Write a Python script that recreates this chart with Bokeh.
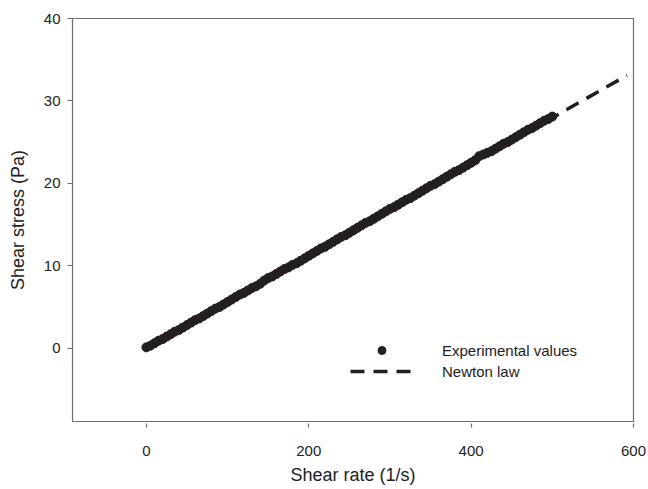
from bokeh.plotting import figure
from bokeh.models import Range1d, Legend, LegendItem, FixedTicker
from bokeh.embed import file_html
from bokeh.resources import INLINE

shear_rate = [0, 5, 10, 15, 20, 25, 30, 35, 40, 45, 50, 55, 60, 65, 70, 75, 80, 85, 90, 95,
              100, 105, 110, 115, 120, 125, 130, 135, 140, 145, 150, 155, 160, 165, 170, 175,
              180, 185, 190, 195, 200, 205, 210, 215, 220, 225, 230, 235, 240, 245, 250, 255,
              260, 265, 270, 275, 280, 285, 290, 295, 300, 305, 310, 315, 320, 325, 330, 335,
              340, 345, 350, 355, 360, 365, 370, 375, 380, 385, 390, 395, 400, 405, 410, 415,
              420, 425, 430, 435, 440, 445, 450, 455, 460, 465, 470, 475, 480, 485, 490, 495,
              500]
shear_stress = [0.1, 0.3, 0.6, 0.9, 1.1, 1.4, 1.7, 2.0, 2.2, 2.5, 2.8, 3.1, 3.4, 3.6, 3.9,
                4.2, 4.5, 4.8, 5.0, 5.3, 5.6, 5.9, 6.2, 6.5, 6.7, 7.0, 7.3, 7.5, 7.8, 8.2,
                8.5, 8.7, 9.0, 9.3, 9.6, 9.8, 10.1, 10.3, 10.6, 10.9, 11.2, 11.5, 11.8,
                12.1, 12.3, 12.6, 12.9, 13.2, 13.5, 13.7, 14.0, 14.3, 14.6, 14.9, 15.2,
                15.4, 15.7, 16.0, 16.3, 16.6, 16.9, 17.1, 17.4, 17.7, 18.0, 18.2, 18.5,
                18.8, 19.1, 19.4, 19.7, 19.9, 20.2, 20.5, 20.8, 21.1, 21.4, 21.6, 21.9,
                22.2, 22.5, 22.8, 23.3, 23.5, 23.7, 23.9, 24.2, 24.5, 24.8, 25.0, 25.3,
                25.6, 25.9, 26.2, 26.5, 26.7, 27.0, 27.3, 27.6, 27.8, 28.1]
newton_x = [0, 592]
newton_y = [0, 33.1]
x_ticks = [0, 200, 400, 600]
y_ticks = [0, 10, 20, 30, 40]

FONT = "Liberation Sans"
GREY = "#6e6e6e"
INK = "#231f20"

p = figure(width=648, height=489, output_backend="svg", toolbar_location=None,
           x_range=Range1d(-91, 600), y_range=Range1d(-8.9, 40),
           min_border_left=72, min_border_right=15, min_border_top=18,
           min_border_bottom=68)
p.grid.visible = False
p.outline_line_color = GREY
p.outline_line_width = 1.2
p.background_fill_color = "white"
p.border_fill_color = "white"

line_r = p.line(newton_x, newton_y, line_color=INK, line_width=3.5, line_dash="14 9")
pts_r = p.scatter(shear_rate, shear_stress, size=9, fill_color=INK, line_color=INK)

for ax in (p.xaxis[0], p.yaxis[0]):
    ax.axis_line_color = GREY
    ax.major_tick_line_color = GREY
    ax.major_tick_line_width = 1.2
    ax.minor_tick_line_color = None
    ax.major_label_text_font = FONT
    ax.major_label_text_font_size = "15px"
    ax.major_label_text_color = "#222222"
    ax.axis_label_text_font = FONT
    ax.axis_label_text_font_size = "18px"
    ax.axis_label_text_font_style = "normal"
    ax.axis_label_text_color = "#222222"

p.xaxis.ticker = FixedTicker(ticks=x_ticks)
p.yaxis.ticker = FixedTicker(ticks=y_ticks)
p.xaxis.axis_label = "Shear rate (1/s)"
p.yaxis.axis_label = "Shear stress (Pa)"
p.xaxis.major_tick_in = -2
p.xaxis.major_tick_out = 6
p.xaxis.major_label_standoff = 18
p.xaxis.axis_label_standoff = 6
p.yaxis.major_tick_in = 0
p.yaxis.major_tick_out = 5
p.yaxis.major_label_standoff = 7
p.yaxis.axis_label_standoff = 13

legend = Legend(items=[LegendItem(label="Experimental values", renderers=[pts_r]),
                       LegendItem(label="Newton law", renderers=[line_r])],
                location=(278, 40), glyph_width=63, glyph_height=20,
                label_height=20, spacing=1, padding=0, margin=0,
                label_standoff=29, border_line_color=None,
                background_fill_alpha=0, label_text_font=FONT,
                label_text_font_size="15px", label_text_color="#222222")
p.add_layout(legend)

open("out.html", "w").write(file_html(p, INLINE))
